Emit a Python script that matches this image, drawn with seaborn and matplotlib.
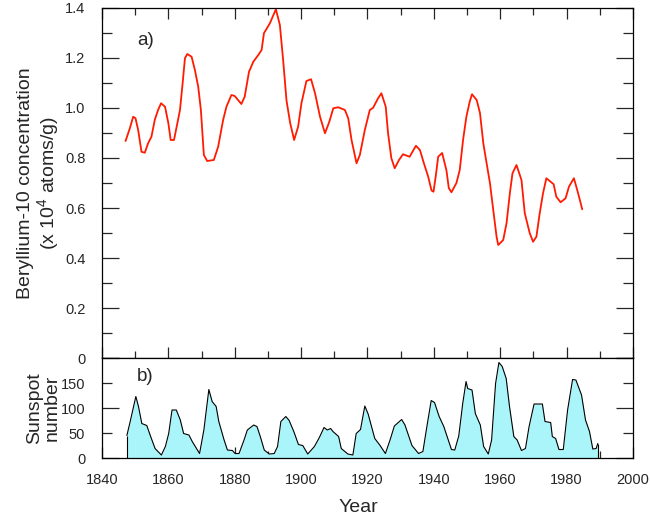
import numpy as np
import pandas as pd
import matplotlib
matplotlib.use("Agg")
import matplotlib.pyplot as plt
import seaborn as sns
from matplotlib.ticker import MultipleLocator, FuncFormatter

# Beryllium-10 concentration (x 10^4 atoms/g)
be_years = [1847.1, 1848.4, 1849.4, 1850.1, 1850.9, 1851.9, 1852.9, 1853.9, 1854.9, 1855.9,
            1856.9, 1857.8, 1859.0, 1860.0, 1860.7, 1861.7, 1862.5, 1863.5, 1864.3, 1865.0,
            1865.7, 1867.0, 1868.0, 1869.0, 1869.8, 1870.7, 1871.7, 1873.7, 1875.0, 1876.5,
            1877.5, 1879.0, 1880.0, 1882.0, 1883.0, 1884.3, 1885.6, 1887.1, 1888.1, 1888.8,
            1890.6, 1892.4, 1893.6, 1894.6, 1895.6, 1896.7, 1897.9, 1899.1, 1900.1, 1901.6,
            1903.0, 1904.2, 1905.7, 1907.2, 1908.5, 1909.7, 1911.2, 1913.2, 1914.2, 1915.2,
            1916.7, 1917.7, 1919.2, 1920.7, 1921.7, 1923.2, 1924.2, 1925.5, 1926.2, 1927.2,
            1928.2, 1929.5, 1930.7, 1932.7, 1934.6, 1935.8, 1937.0, 1938.3, 1939.3, 1939.9,
            1940.6, 1941.3, 1942.5, 1943.8, 1944.5, 1945.3, 1946.8, 1947.8, 1948.8, 1949.8,
            1950.8, 1951.5, 1952.9, 1953.9, 1954.9, 1955.9, 1956.9, 1957.9, 1958.9, 1959.4,
            1960.9, 1961.9, 1962.9, 1963.7, 1964.9, 1966.4, 1967.4, 1968.9, 1969.9, 1970.9,
            1971.9, 1972.9, 1973.9, 1976.1, 1976.9, 1978.2, 1979.7, 1980.7, 1982.2, 1983.2,
            1984.0, 1984.7]
be_values = [0.868, 0.919, 0.965, 0.959, 0.912, 0.825, 0.821, 0.859, 0.885, 0.952,
             0.992, 1.019, 1.005, 0.939, 0.872, 0.872, 0.925, 0.992, 1.099, 1.199,
             1.216, 1.205, 1.152, 1.085, 0.992, 0.812, 0.788, 0.792, 0.845, 0.952,
             1.005, 1.052, 1.048, 1.016, 1.045, 1.145, 1.185, 1.212, 1.232, 1.299,
             1.339, 1.395, 1.332, 1.19, 1.03, 0.94, 0.872, 0.925, 1.019, 1.108,
             1.115, 1.059, 0.965, 0.899, 0.945, 0.999, 1.003, 0.992, 0.959, 0.872,
             0.779, 0.812, 0.912, 0.992, 1.001, 1.039, 1.059, 1.005, 0.899, 0.799,
             0.759, 0.792, 0.815, 0.805, 0.849, 0.832, 0.779, 0.725, 0.67, 0.665,
             0.73, 0.805, 0.82, 0.75, 0.68, 0.663, 0.70, 0.752, 0.872, 0.965,
             1.025, 1.055, 1.032, 0.98, 0.859, 0.779, 0.70, 0.592, 0.485, 0.452,
             0.472, 0.539, 0.659, 0.739, 0.772, 0.712, 0.579, 0.499, 0.465, 0.485,
             0.579, 0.659, 0.719, 0.695, 0.645, 0.623, 0.639, 0.685, 0.719, 0.672,
             0.632, 0.595]

# Sunspot number
ss_years = [1847.5, 1848.5, 1850.2, 1851.0, 1852.0, 1853.5, 1854.5, 1856.0, 1857.9, 1859.1,
            1860.1, 1861.1, 1862.4, 1863.6, 1864.6, 1866.2, 1867.2, 1869.4, 1870.7, 1872.2,
            1873.2, 1874.4, 1875.2, 1876.8, 1877.8, 1879.3, 1880.1, 1881.3, 1882.8, 1883.8,
            1885.7, 1886.7, 1887.7, 1888.9, 1890.4, 1891.9, 1892.9, 1893.9, 1895.4, 1896.4,
            1897.8, 1899.2, 1900.5, 1902.0, 1904.0, 1905.5, 1906.9, 1907.9, 1908.9, 1909.6,
            1911.3, 1912.1, 1914.1, 1915.6, 1916.6, 1917.9, 1919.2, 1920.2, 1922.2, 1923.7,
            1925.4, 1926.8, 1928.1, 1930.3, 1931.3, 1933.4, 1935.4, 1936.7, 1937.9, 1939.2,
            1940.2, 1941.6, 1943.0, 1945.3, 1946.3, 1947.5, 1948.7, 1949.7, 1950.2, 1951.5,
            1952.5, 1954.0, 1955.0, 1956.4, 1957.4, 1958.6, 1959.6, 1960.6, 1961.8, 1962.8,
            1964.1, 1965.1, 1966.4, 1967.6, 1968.7, 1970.2, 1972.7, 1973.5, 1975.2, 1975.7,
            1976.7, 1977.7, 1979.0, 1980.3, 1981.8, 1982.8, 1984.5, 1985.7, 1986.9, 1987.9,
            1988.9, 1989.4]
ss_values = [45, 73, 123, 103, 69, 65, 46, 19, 6, 23,
             49, 96, 96, 76, 49, 46, 33, 9, 56, 137,
             113, 103, 73, 36, 16, 15, 9, 9, 36, 56,
             66, 63, 43, 16, 8, 9, 23, 73, 83, 75,
             53, 27, 25, 8, 23, 41, 61, 56, 59, 53,
             43, 19, 8, 6, 49, 57, 104, 88, 39, 26,
             9, 36, 64, 77, 66, 25, 9, 13, 63, 115,
             111, 83, 63, 17, 16, 44, 109, 153, 139, 136,
             89, 66, 23, 8, 36, 149, 191, 183, 159, 103,
             43, 36, 15, 19, 63, 108, 108, 73, 71, 43,
             39, 17, 17, 96, 157, 156, 126, 76, 53, 18,
             19, 29]

be_df = pd.DataFrame({"year": be_years, "be10": be_values})
ss_df = pd.DataFrame({"year": ss_years, "sunspots": ss_values})

sns.set_style("ticks")
plt.rcParams["font.family"] = ["Liberation Sans", "DejaVu Sans"]
plt.rcParams["mathtext.default"] = "regular"

fig = plt.figure(figsize=(6.5, 5.19), dpi=100)
ax1 = fig.add_axes([0.1569, 0.3102, 0.8169, 0.6744])
ax2 = fig.add_axes([0.1569, 0.1175, 0.8169, 0.1927], sharex=ax1)

# panel a) beryllium-10
sns.lineplot(data=be_df, x="year", y="be10", ax=ax1, color="#ff1a00", lw=1.3)
ax1.set_xlim(1840, 2000)
ax1.set_ylim(0, 1.4)
ax1.xaxis.set_major_locator(MultipleLocator(20))
ax1.xaxis.set_minor_locator(MultipleLocator(10))
ax1.yaxis.set_major_locator(MultipleLocator(0.2))
ax1.yaxis.set_minor_locator(MultipleLocator(0.1))
ax1.yaxis.set_major_formatter(FuncFormatter(lambda v, p: "0" if abs(v) < 1e-9 else f"{v:.1f}"))
ax1.set_ylabel("Beryllium-10 concentration\n(x 10$^4$ atoms/g)", fontsize=14, linespacing=1.05)
ax1.set_xlabel("")
ax1.text(1850.5, 1.27, "a)", fontsize=13.5, va="center")

# panel b) sunspots
ax2.fill_between(ss_df["year"], ss_df["sunspots"], color="#aaf5fa", lw=0)
sns.lineplot(data=ss_df, x="year", y="sunspots", ax=ax2, color="black", lw=0.8)
ax2.vlines([ss_years[0], ss_years[-1]], 0, [ss_values[0], ss_values[-1]], color="black", lw=0.8)
ax2.set_ylim(0, 200)
ax2.set_yticks([0, 100, 200])
ax2.set_yticklabels(["0", "100", ""])
ax2.set_yticks([50, 150], minor=True)
ax2.set_yticklabels(["50", "150"], minor=True)
ax2.set_ylabel("Sunspot\nnumber", fontsize=14, linespacing=1.05)
ax2.set_xlabel("")
ax2.text(1850.5, 163, "b)", fontsize=13.5, va="center")

for ax in (ax1, ax2):
    for s in ax.spines.values():
        s.set_linewidth(0.9)
        s.set_color("black")
    ax.yaxis.set_tick_params(which="major", direction="in", length=12, width=0.9,
                             left=True, right=True, labelsize=10.5, pad=12)
    ax.yaxis.set_tick_params(which="minor", direction="in", length=7.5, width=0.9,
                             left=True, right=True, labelsize=10.5, pad=12)
    ax.xaxis.set_tick_params(which="major", direction="in", length=8, width=0.9, labelsize=10.5, pad=11)
    ax.xaxis.set_tick_params(which="minor", direction="in", length=5, width=0.9)
    ax.yaxis.set_label_coords(-0.078, 0.5)

ax1.tick_params(axis="x", which="both", top=True, bottom=True, labelbottom=False)
ax2.tick_params(axis="x", which="both", top=False, bottom=True, labelbottom=True)

fig.text(358 / 650, 1 - 508 / 519, "Year", ha="center", va="center", fontsize=14)

fig.savefig("out.png", dpi=100)
